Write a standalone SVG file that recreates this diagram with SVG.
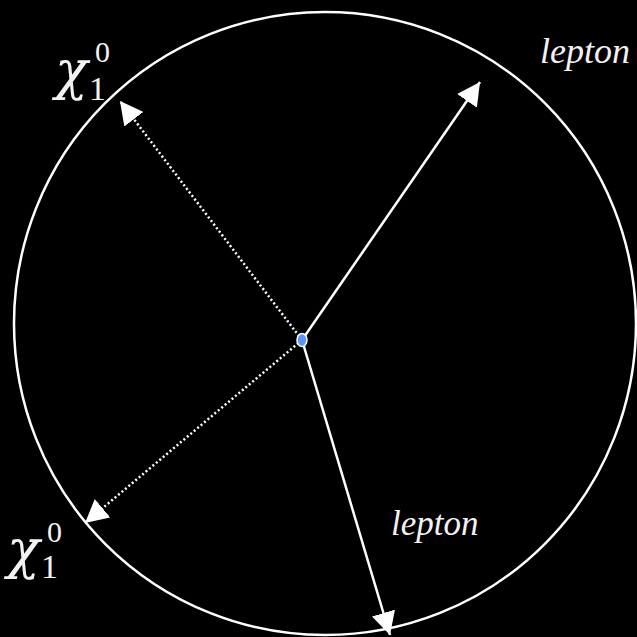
<svg xmlns="http://www.w3.org/2000/svg" width="637" height="637" viewBox="0 0 637 637">
<style>
.bg{fill:#000}
.ring{fill:none;stroke:#fff;stroke-width:2.5}
.solid{stroke:#fff;stroke-width:2.5;fill:none}
.dotted{stroke:#fff;stroke-width:2.5;stroke-dasharray:2 2.5;fill:none}
.lbl{font-family:"Liberation Serif","Times New Roman",serif;font-style:italic;fill:#f2f2f2}
.chi{font-family:"DejaVu Serif",serif;font-style:italic;fill:#f2f2f2}
.num{font-family:"Liberation Serif","Times New Roman",serif;font-style:normal;fill:#f2f2f2}
</style>
<defs>
<marker id="ah" markerUnits="userSpaceOnUse" markerWidth="24" markerHeight="24" viewBox="0 0 22 22" refX="21" refY="11" orient="auto">
<path d="M0,0 L21,11 L0,22 Z" fill="#fff"/>
</marker>
</defs>
<rect class="bg" x="0" y="0" width="637" height="637"/>
<g id="detector">
<ellipse class="ring" cx="325" cy="323.5" rx="311" ry="311.5"/>
</g>
<g id="connectors">
<line class="solid" x1="302" y1="340" x2="480" y2="82" marker-end="url(#ah)"/>
<line class="solid" x1="302" y1="340" x2="390" y2="635" marker-end="url(#ah)"/>
<line class="dotted" x1="302" y1="340" x2="120" y2="101" marker-end="url(#ah)"/>
<line class="dotted" x1="302" y1="340" x2="85" y2="523" marker-end="url(#ah)"/>
</g>
<g id="vertex">
<ellipse cx="302" cy="340" rx="5" ry="6.5" fill="#5f93f8" stroke="#fff" stroke-width="1.5"/>
</g>
<g id="label-lepton-top">
<text class="lbl" x="540" y="63" font-size="36">lepton</text>
</g>
<g id="label-lepton-bottom">
<text class="lbl" x="391" y="535" font-size="35">lepton</text>
</g>
<g id="label-chi-top">
<text class="chi" x="55" y="89" font-size="54">χ<tspan class="num" x="89" y="100" font-size="34">1</tspan><tspan class="num" x="95" y="62" font-size="30">0</tspan></text>
</g>
<g id="label-chi-bottom">
<text class="chi" x="7" y="568" font-size="54">χ<tspan class="num" x="41" y="578" font-size="34">1</tspan><tspan class="num" x="47" y="542" font-size="30">0</tspan></text>
</g>
</svg>
